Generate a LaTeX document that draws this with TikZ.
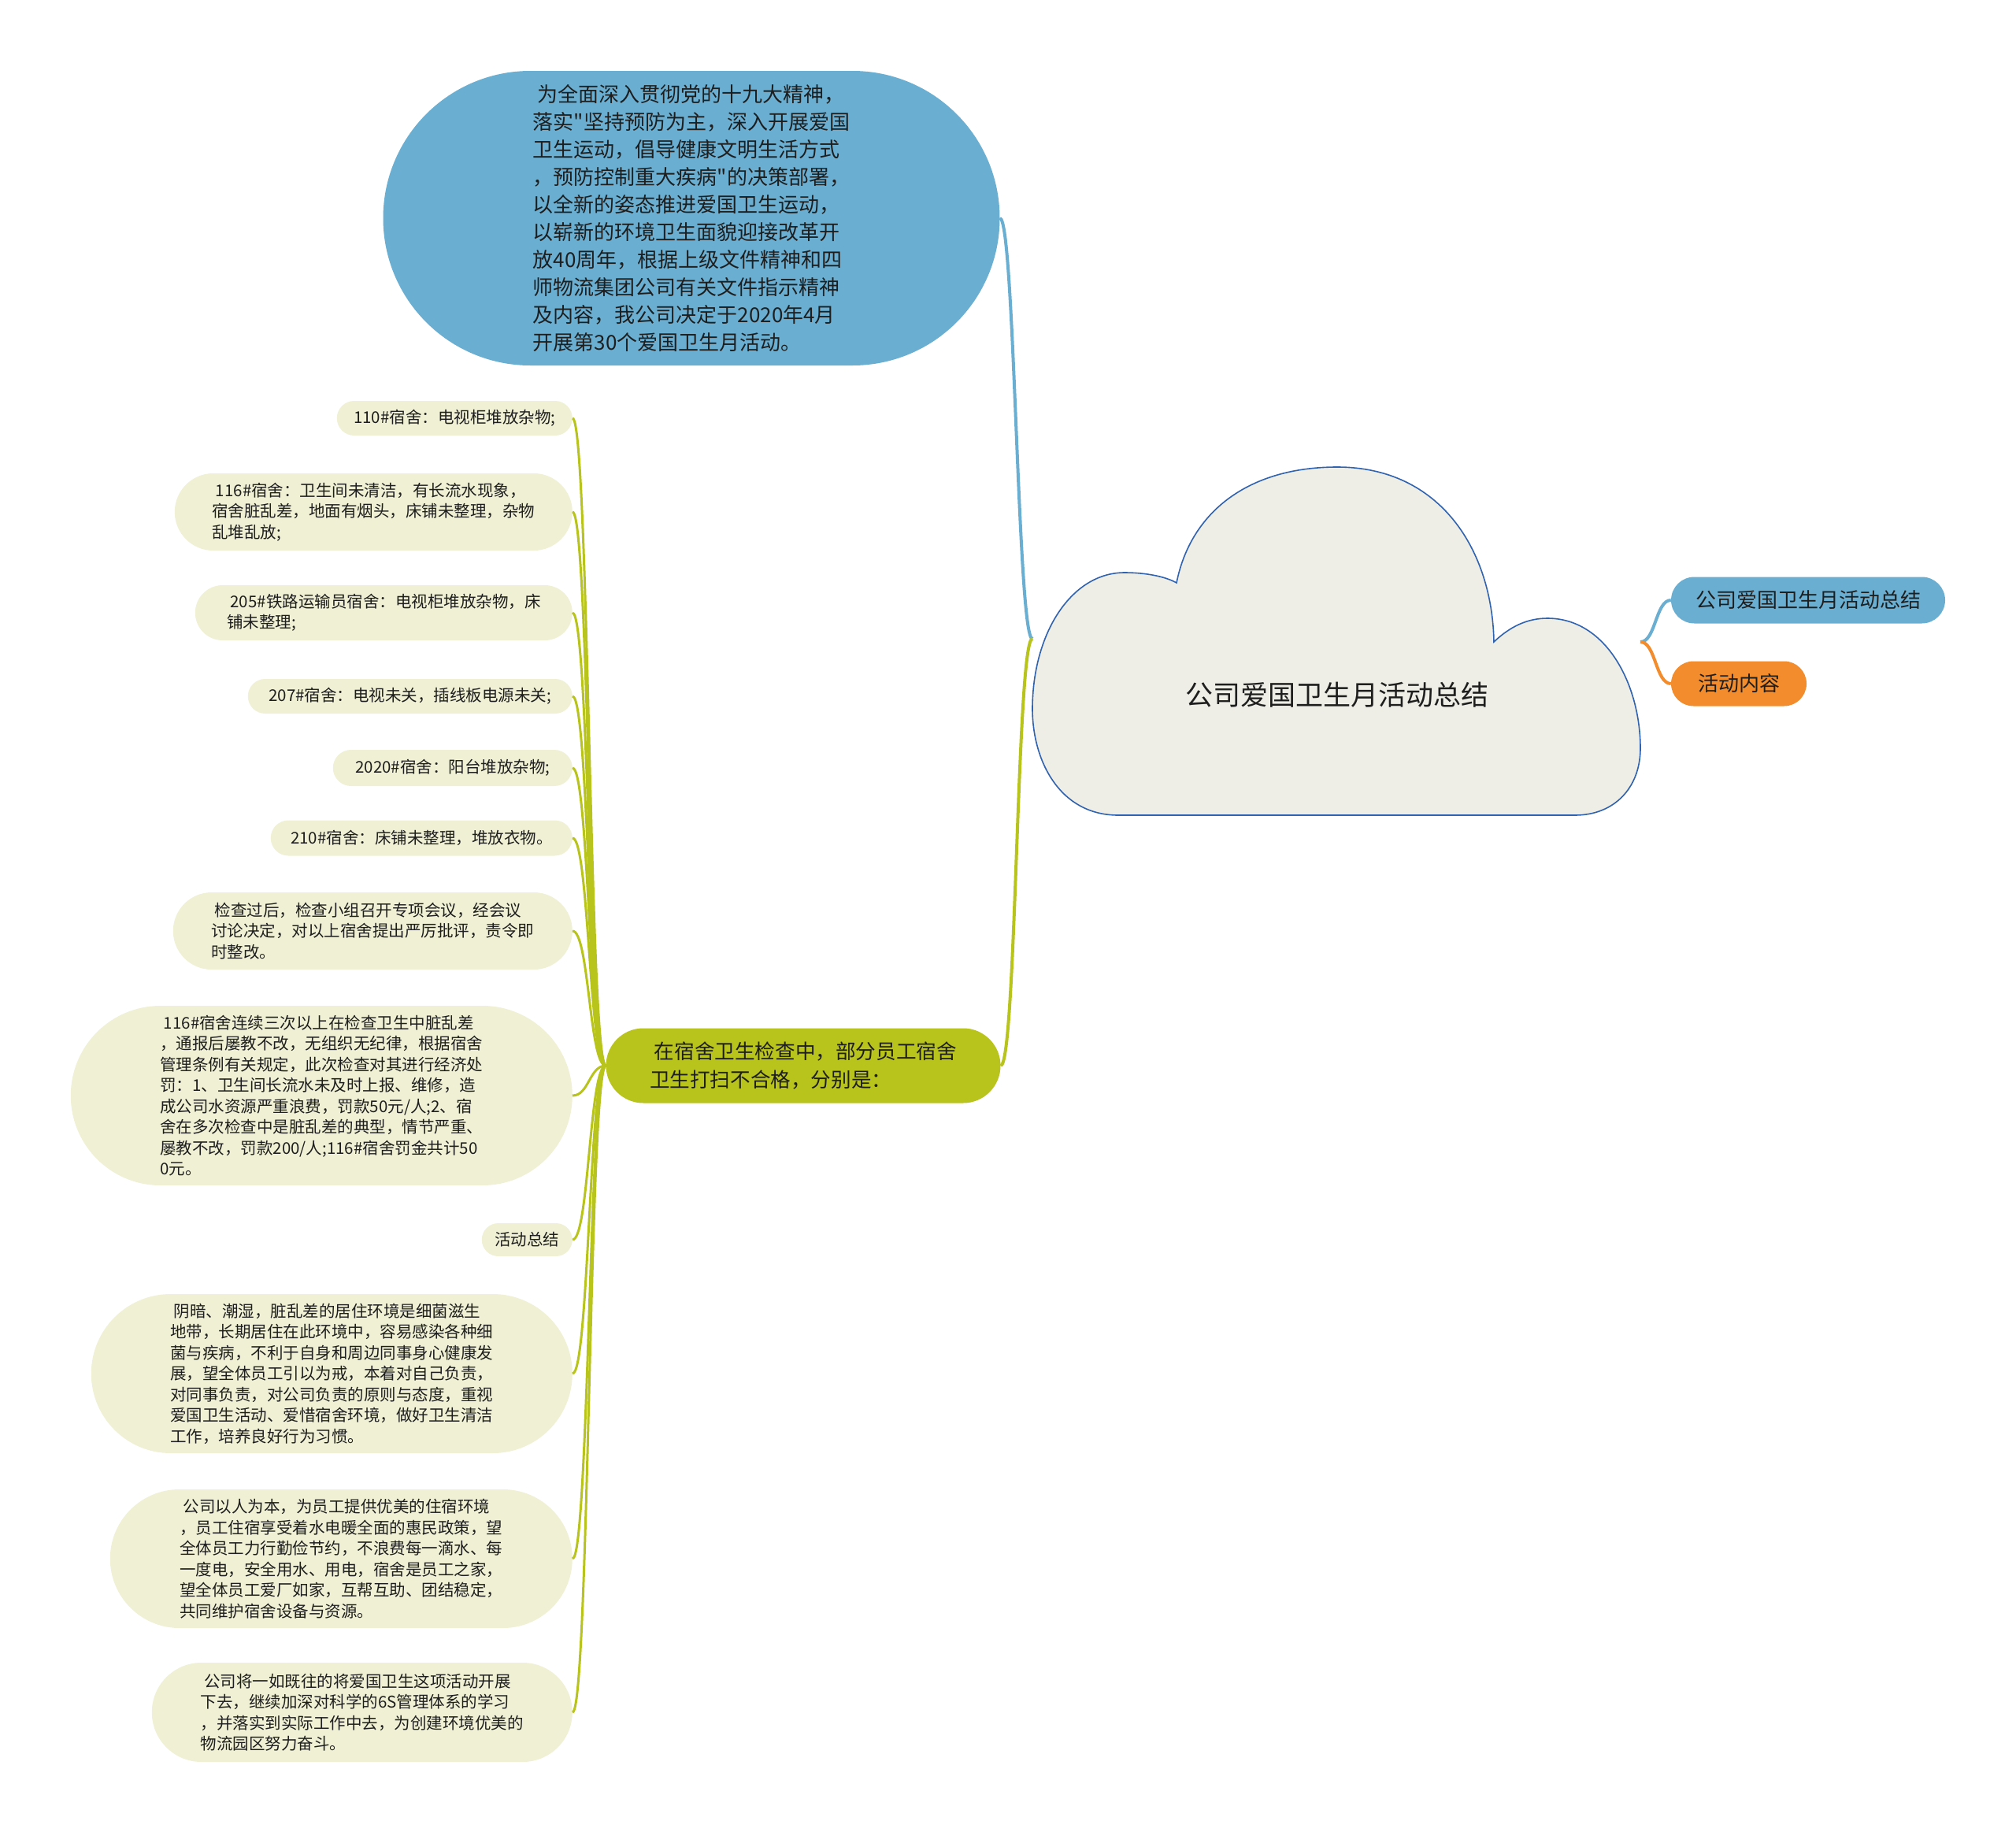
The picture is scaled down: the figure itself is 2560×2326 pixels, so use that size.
\documentclass[tikz,border=0pt]{standalone}
\usepackage{fontspec}
\setmainfont{Noto Sans CJK SC}[Ligatures=TeXOff]
\usetikzlibrary{positioning}
\definecolor{topic}{HTML}{6AAFD2}
\definecolor{branch}{HTML}{B8C31C}
\definecolor{leafc}{HTML}{EFF0D4}
\definecolor{cloudfill}{HTML}{EEEEE6}
\definecolor{cloudline}{HTML}{2F62B0}
\definecolor{activity}{HTML}{F28C2C}
\definecolor{ink}{HTML}{1E1E1E}

\begin{document}
\begin{tikzpicture}[x=1pt,y=-1pt,
  pill/.style={draw=none,inner sep=0pt,align=left,text=ink},
  leafbox/.style={pill,fill=leafc,anchor=east,font=\fontsize{20.5}{26.5}\selectfont},
  leafline/.style={draw=branch,line width=3pt},
  mainline/.style={line width=4pt}]
  \useasboundingbox (0,0) rectangle (2560,2326);

  % central cloud
  \draw[cloudline,fill=cloudfill,line width=1.6pt]
    (1420,1035) .. controls (1345,1035) and (1311,965) .. (1311,900)
    .. controls (1311,805) and (1360,727) .. (1428,727)
    .. controls (1455,727) and (1480,732) .. (1494,740)
    .. controls (1512,650) and (1585,593) .. (1698,593)
    .. controls (1830,593) and (1895,700) .. (1897,815)
    .. controls (1918,795) and (1940,785) .. (1965,785)
    .. controls (2040,785) and (2083,870) .. (2083,950)
    .. controls (2083,1000) and (2050,1035) .. (2000,1035) -- cycle;
  \node[font=\fontsize{35}{42}\selectfont,text=ink] (root) at (1698,882) {公司爱国卫生月活动总结};
  \coordinate (rootL) at (1311,811);
  \coordinate (rootR) at (2083,815);

  % right side
  \node[pill,fill=topic,minimum width=348,minimum height=59,rounded corners=29.5,
        font=\fontsize{26}{32}\selectfont] (title) at (2296,762) {公司爱国卫生月活动总结};
  \node[pill,fill=activity,minimum width=172,minimum height=57,rounded corners=28.5,
        font=\fontsize{26}{32}\selectfont] (content) at (2208,868) {活动内容};
  \draw[mainline,topic] (rootR) .. controls +(19.5,0) and +(-19.5,0) .. (title.west);
  \draw[mainline,activity] (rootR) .. controls +(19.5,0) and +(-19.5,0) .. (content.west);

  % upper blue topic
  \node[pill,fill=topic,minimum width=783,minimum height=374,rounded corners=187,
        font=\fontsize{26}{35}\selectfont] (intro) at (878,277)
    {~为全面深入贯彻党的十九大精神，\\落实"坚持预防为主，深入开展爱国\\卫生运动，倡导健康文明生活方式\\，预防控制重大疾病"的决策部署，\\以全新的姿态推进爱国卫生运动，\\以崭新的环境卫生面貌迎接改革开\\放40周年，根据上级文件精神和四\\师物流集团公司有关文件指示精神\\及内容，我公司决定于2020年4月\\开展第30个爱国卫生月活动。};

  % green branch
  \node[pill,fill=branch,minimum width=501,minimum height=95,rounded corners=47.5,
        font=\fontsize{25.6}{36}\selectfont] (insp) at (1020,1353)
    {~在宿舍卫生检查中，部分员工宿舍\\卫生打扫不合格，分别是：};
  \draw[mainline,topic] (rootL) .. controls +(-19,0) and +(19,0) .. (intro.east);
  \draw[mainline,branch] (rootL) .. controls +(-20,0) and +(20,0) .. (insp.east);

  % leaves
  \node[leafbox,minimum width=299,minimum height=44,rounded corners=22] (d110) at (727,531)
    {110\#宿舍：电视柜堆放杂物;};
  \node[leafbox,minimum width=505,minimum height=98,rounded corners=49] (d116) at (727,650)
    {~116\#宿舍：卫生间未清洁，有长流水现象，\\宿舍脏乱差，地面有烟头，床铺未整理，杂物\\乱堆乱放;};
  \node[leafbox,minimum width=479,minimum height=70,rounded corners=35] (d205) at (727,778)
    {~205\#铁路运输员宿舍：电视柜堆放杂物，床\\铺未整理;};
  \node[leafbox,minimum width=412,minimum height=44,rounded corners=22] (d207) at (727,884)
    {207\#宿舍：电视未关，插线板电源未关;};
  \node[leafbox,minimum width=304,minimum height=46,rounded corners=23] (d2020) at (727,975)
    {2020\#宿舍：阳台堆放杂物;};
  \node[leafbox,minimum width=383,minimum height=45,rounded corners=22.5] (d210) at (727,1064)
    {210\#宿舍：床铺未整理，堆放衣物。};
  \node[leafbox,minimum width=507,minimum height=98,rounded corners=49] (review) at (727,1182)
    {~检查过后，检查小组召开专项会议，经会议\\讨论决定，对以上宿舍提出严厉批评，责令即\\时整改。};
  \node[leafbox,minimum width=637,minimum height=228,rounded corners=114] (fine) at (727,1391)
    {~116\#宿舍连续三次以上在检查卫生中脏乱差\\，通报后屡教不改，无组织无纪律，根据宿舍\\管理条例有关规定，此次检查对其进行经济处\\罚：1、卫生间长流水未及时上报、维修，造\\成公司水资源严重浪费，罚款50元/人;2、宿\\舍在多次检查中是脏乱差的典型，情节严重、\\屡教不改，罚款200/人;116\#宿舍罚金共计50\\0元。};
  \node[leafbox,minimum width=115,minimum height=42,rounded corners=21] (summary) at (727,1574)
    {活动总结};
  \node[leafbox,minimum width=611,minimum height=202,rounded corners=101] (hygiene) at (727,1744)
    {~阴暗、潮湿，脏乱差的居住环境是细菌滋生\\地带，长期居住在此环境中，容易感染各种细\\菌与疾病，不利于自身和周边同事身心健康发\\展，望全体员工引以为戒，本着对自己负责，\\对同事负责，对公司负责的原则与态度，重视\\爱国卫生活动、爱惜宿舍环境，做好卫生清洁\\工作，培养良好行为习惯。};
  \node[leafbox,minimum width=587,minimum height=176,rounded corners=88] (care) at (727,1979)
    {~公司以人为本，为员工提供优美的住宿环境\\，员工住宿享受着水电暖全面的惠民政策，望\\全体员工力行勤俭节约，不浪费每一滴水、每\\一度电，安全用水、用电，宿舍是员工之家，\\望全体员工爱厂如家，互帮互助、团结稳定，\\共同维护宿舍设备与资源。};
  \node[leafbox,minimum width=534,minimum height=126,rounded corners=63] (future) at (727,2174)
    {~公司将一如既往的将爱国卫生这项活动开展\\下去，继续加深对科学的6S管理体系的学习\\，并落实到实际工作中去，为创建环境优美的\\物流园区努力奋斗。};

  \foreach \leafname in {d110,d116,d205,d207,d2020,d210,review,fine,summary,hygiene,care,future}
    \draw[leafline] (insp.west) .. controls +(-21,0) and +(21,0) .. (\leafname.east);
\end{tikzpicture}
\end{document}
